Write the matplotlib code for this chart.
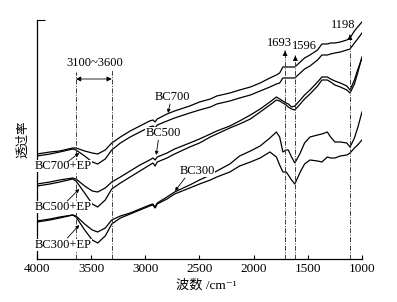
"""FTIR spectra of BC300/500/700 with and without EP."""

import matplotlib
matplotlib.use("Agg")
import matplotlib.pyplot as plt

plt.rcParams["font.family"] = ["Liberation Serif", "Noto Sans CJK SC",
                               "DejaVu Sans"]

# wavenumber grid (cm-1) shared by all six spectra
wavenumber = [4000, 3880, 3790, 3670, 3640, 3560, 3490, 3440, 3370, 3310,
              3230, 3140, 3050, 2960, 2930, 2910, 2890, 2800, 2730, 2590,
              2500, 2400, 2340, 2220, 2130, 2030, 1940, 1850, 1790, 1760,
              1730, 1700, 1680, 1650, 1620, 1570, 1530, 1480, 1410, 1370,
              1320, 1290, 1250, 1200, 1140, 1110, 1070, 1040, 1000]

# transmittance, arbitrary offset units
bc700 = [105, 107, 108, 111, 111, 108, 106, 105, 109, 116, 122, 128, 133, 138,
         139, 137, 140, 145, 148, 153, 157, 160, 163, 166, 169, 172, 176, 181,
         184, 186, 192, 192, 192, 192, 192, 197, 201, 204, 209, 215, 215, 216,
         216, 217, 219, 221, 228, 232, 237]
bc700_ep = [103, 105, 107, 110, 109, 103, 97, 95, 100, 109, 116, 122, 127, 132,
            133, 131, 134, 138, 141, 146, 149, 152, 155, 158, 161, 164, 168,
            172, 175, 176, 181, 181, 181, 181, 181, 186, 190, 193, 199, 204,
            204, 205, 206, 207, 209, 210, 216, 220, 226]
bc500 = [75, 77, 79, 81, 80, 73, 68, 67, 71, 77, 82, 88, 94, 99, 101, 99, 102,
         106, 110, 116, 120, 125, 128, 133, 138, 144, 150, 157, 162, 160, 158,
         156, 155, 152, 153, 159, 164, 169, 177, 182, 182, 180, 178, 176, 173,
         169, 179, 189, 201]
bc500_ep = [73, 75, 77, 80, 78, 66, 55, 52, 59, 70, 76, 82, 88, 94, 96, 93, 97,
            101, 105, 112, 116, 122, 125, 131, 135, 140, 147, 154, 159, 158,
            156, 154, 152, 150, 149, 155, 160, 165, 173, 179, 179, 177, 174,
            172, 169, 166, 175, 186, 202]
bc300 = [38, 40, 42, 44, 43, 35, 29, 27, 31, 39, 43, 46, 50, 54, 55, 52, 56, 62,
         67, 74, 79, 84, 88, 95, 103, 108, 113, 121, 127, 122, 107, 109, 109,
         102, 96, 106, 116, 122, 124, 125, 127, 122, 117, 117, 116, 112, 121,
         131, 147]
bc300_ep = [37, 39, 41, 44, 42, 29, 19, 16, 23, 35, 41, 45, 49, 53, 54, 51, 55,
            60, 65, 71, 75, 79, 82, 87, 93, 97, 101, 107, 102, 94, 87, 87, 84,
            79, 75, 87, 95, 99, 98, 97, 102, 101, 101, 103, 104, 106, 111, 114,
            119]

# marker lines: (wavenumber, top of line), labelled peaks
band_lines = [(3640, 187), (3310, 190)]
peak_lines = [(1710, 211, "1693"), (1615, 206, "1596"), (1111, 227, "1198")]
peak_text_pos = [(1766, 216), (1530, 213), (1176, 234)]

fig = plt.figure(figsize=(3.97, 3.02), dpi=100)
ax = fig.add_axes([0.0932, 0.1424, 0.8186, 0.7914])

for series in (bc700, bc700_ep, bc500, bc500_ep, bc300, bc300_ep):
    ax.plot(wavenumber, series, color="black", lw=0.9)

dash = (0, (5, 1.5, 1, 1.5))
for wn, top in band_lines:
    ax.plot([wn, wn], [0, top], color="0.25", lw=0.7, linestyle=dash)
for (wn, top, txt), (tx, ty) in zip(peak_lines, peak_text_pos):
    ax.plot([wn, wn], [0, top - 4], color="0.25", lw=0.7, linestyle=dash)
    ax.annotate("", xy=(wn, top), xytext=(wn, top - 6),
                arrowprops=dict(arrowstyle="-|>", color="black", lw=0.6,
                                mutation_scale=7))
    ax.text(tx, ty, txt, ha="center", va="center", fontsize=9)

ax.annotate("", xy=(3640, 180), xytext=(3310, 180),
            arrowprops=dict(arrowstyle="<|-|>", color="black", lw=0.6,
                            mutation_scale=7, shrinkA=0, shrinkB=0))
ax.text(3465, 196, "3100~3600", ha="center", va="center", fontsize=9)

labels = [
    ("BC700", (2754, 162), (2772, 155), (2791, 146)),
    ("BC500", (2837, 126), (2880, 119), (2900, 104)),
    ("BC300", (2523, 88), (2634, 81), (2726, 68)),
    ("BC700+EP", (3760, 93), (3720, 97), (3610, 106)),
    ("BC500+EP", (3760, 52), (3720, 58), (3610, 70)),
    ("BC300+EP", (3760, 14), (3720, 21), (3610, 34)),
]
for txt, (tx, ty), (sx, sy), (ex, ey) in labels:
    ax.text(tx, ty, txt, ha="center", va="center", fontsize=9,
            bbox=dict(facecolor="white", edgecolor="none", pad=0.2))
    ax.annotate("", xy=(ex, ey), xytext=(sx, sy),
                arrowprops=dict(arrowstyle="-|>", color="black", lw=0.6,
                                mutation_scale=5, shrinkA=0, shrinkB=0))

ax.set_xlim(4000, 1000)
ax.set_ylim(0, 239)
ax.set_xticks([4000, 3500, 3000, 2500, 2000, 1500, 1000])
ax.set_yticks([239])
ax.set_yticklabels([])
ax.tick_params(axis="x", direction="in", length=3, width=0.8,
               labelsize=9.5, pad=3)
ax.tick_params(axis="y", direction="in", length=6, width=0.8)
ax.spines["top"].set_visible(False)
ax.spines["right"].set_visible(False)
for side in ("left", "bottom"):
    ax.spines[side].set_linewidth(0.9)

ax.set_xlabel("波数 /cm⁻¹", fontsize=9.5, labelpad=4)
ax.xaxis.set_label_coords(0.52, -0.085)
ax.set_ylabel("透过率", fontsize=9, family="Noto Sans CJK SC", labelpad=2)

fig.savefig("out.png", dpi=100)
